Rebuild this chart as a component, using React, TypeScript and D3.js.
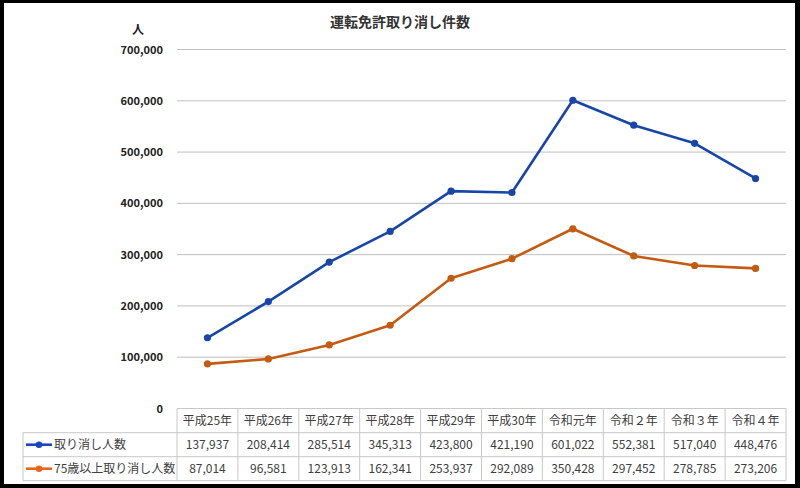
import React from "react";
import * as d3 from "d3";

const categories = ["平成25年", "平成26年", "平成27年", "平成28年", "平成29年", "平成30年", "令和元年", "令和２年", "令和３年", "令和４年"];
const seriesNames = ["取り消し人数", "75歳以上取り消し人数"];
const revoked = [137937, 208414, 285514, 345313, 423800, 421190, 601022, 552381, 517040, 448476];
const revoked75 = [87014, 96581, 123913, 162341, 253937, 292089, 350428, 297452, 278785, 273206];
const yTicks = [0, 100000, 200000, 300000, 400000, 500000, 600000, 700000];
const seriesColors = ["#1746a8", "#c55a11"];
const legendColors = ["#1746c0", "#e8651a"];

const W = 800;
const H = 488;
const plotLeft = 177;
const plotRight = 786;
const yTop = 49.5;
const yBottom = 408.5;
const tableLeft = 23;
const rowY = [408.5, 432.7, 456.7, 480.7];

export default function App() {
  const x = d3.scaleBand<string>().domain(categories).range([plotLeft, plotRight]).padding(0);
  const y = d3.scaleLinear().domain([0, 700000]).range([yBottom, yTop]);
  const fmt = d3.format(",");
  const data = [revoked, revoked75];
  const line = d3
    .line<number>()
    .x((_, i) => (x(categories[i]) as number) + x.bandwidth() / 2)
    .y((d) => y(d));
  const font = "'Noto Sans CJK JP', 'Noto Sans', sans-serif";
  const gridColor = "#bfbfbf";
  const tableColor = "#c8c8c8";

  return (
    <div style={{ position: "fixed", left: 0, top: 0, width: W, height: H, background: "#fff" }}>
      <svg width={W} height={H} style={{ display: "block", fontFamily: font }}>
        <rect x={0} y={0} width={W} height={H} fill="#fff" />
        {/* title */}
        <text x={400} y={27} textAnchor="middle" fontSize={14} fontWeight={700} fill="#333">
          運転免許取り消し件数
        </text>
        <text x={138} y={34} textAnchor="middle" fontSize={12} fontWeight={700} fill="#222">
          人
        </text>
        {/* grid + y labels */}
        {yTicks.map((t) => (
          <g key={t}>
            {t > 0 && (
              <line x1={plotLeft} x2={plotRight} y1={y(t)} y2={y(t)} stroke={gridColor} strokeWidth={1} />
            )}
            <text x={163} y={y(t) + 4} textAnchor="end" fontSize={11} fontWeight={700} fill="#222">
              {fmt(t)}
            </text>
          </g>
        ))}
        {/* lines */}
        {data.map((s, si) => (
          <g key={si}>
            <path d={line(s) || ""} fill="none" stroke={seriesColors[si]} strokeWidth={2.6} strokeLinejoin="round" />
            {s.map((v, i) => (
              <circle key={i} cx={(x(categories[i]) as number) + x.bandwidth() / 2} cy={y(v)} r={3.6} fill={seriesColors[si]} />
            ))}
          </g>
        ))}
        {/* table */}
        <g stroke={tableColor} strokeWidth={1} fill="none">
          <line x1={plotLeft} x2={plotRight} y1={rowY[0]} y2={rowY[0]} />
          <line x1={tableLeft} x2={plotRight} y1={rowY[1]} y2={rowY[1]} />
          <line x1={tableLeft} x2={plotRight} y1={rowY[2]} y2={rowY[2]} />
          <line x1={tableLeft} x2={plotRight} y1={rowY[3]} y2={rowY[3]} />
          <line x1={tableLeft} x2={tableLeft} y1={rowY[1]} y2={rowY[3]} />
          {categories.map((c) => (
            <line key={c} x1={x(c) as number} x2={x(c) as number} y1={rowY[0]} y2={rowY[3]} />
          ))}
          <line x1={plotRight} x2={plotRight} y1={rowY[0]} y2={rowY[3]} />
        </g>
        {categories.map((c) => (
          <text key={c} x={(x(c) as number) + x.bandwidth() / 2} y={(rowY[0] + rowY[1]) / 2 + 4.5} textAnchor="middle" fontSize={12} fill="#404040">
            {c}
          </text>
        ))}
        {data.map((s, si) => (
          <g key={si}>
            <line x1={26} x2={52} y1={(rowY[si + 1] + rowY[si + 2]) / 2} y2={(rowY[si + 1] + rowY[si + 2]) / 2} stroke={legendColors[si]} strokeWidth={2.6} />
            <circle cx={39} cy={(rowY[si + 1] + rowY[si + 2]) / 2} r={3.3} fill={legendColors[si]} />
            <text x={54} y={(rowY[si + 1] + rowY[si + 2]) / 2 + 4.5} fontSize={12} fill="#404040">
              {seriesNames[si]}
            </text>
            {s.map((v, i) => (
              <text key={i} x={(x(categories[i]) as number) + x.bandwidth() / 2} y={(rowY[si + 1] + rowY[si + 2]) / 2 + 4.5} textAnchor="middle" fontSize={12} fill="#404040">
                {fmt(v)}
              </text>
            ))}
          </g>
        ))}
        {/* outer frame */}
        <rect x={0} y={0} width={4} height={H} fill="#000" />
        <rect x={0} y={0} width={W} height={3} fill="#000" />
        <rect x={795} y={0} width={5} height={H} fill="#000" />
        <rect x={0} y={484} width={W} height={4} fill="#000" />
      </svg>
    </div>
  );
}
